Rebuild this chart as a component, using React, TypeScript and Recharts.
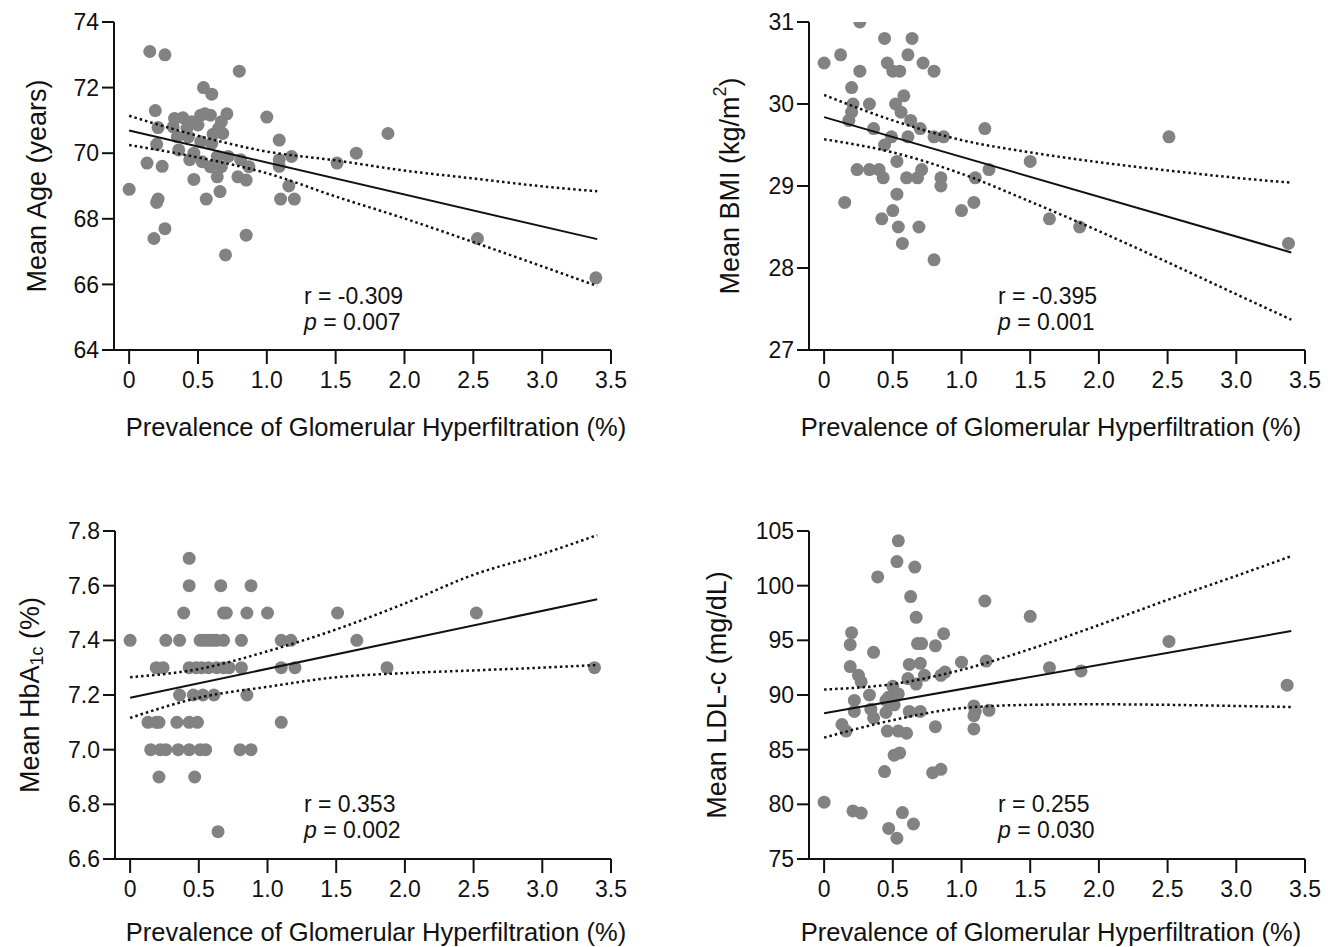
import React from "react";
import { ScatterChart, Scatter, XAxis, YAxis, Label } from "recharts";

const FONT = "'Liberation Sans', Arial, Helvetica, sans-serif";
const INK = "#111";
const DOT = "#828282";

// shared x axis
const xTicks = [0, 0.5, 1, 1.5, 2, 2.5, 3, 3.5];
const lineX = [0, 3.4];
const bandX = [0, 0.5, 1, 1.5, 2, 2.5, 3, 3.4];

// Mean age
const ageX = [0.15, 0.26, 0.8, 0.54, 0.6, 0.19, 1.0, 0.33, 0.39, 0.52, 0.55, 0.59, 0.71, 0.455, 0.67, 0.65, 0.61, 0.68, 0.21, 0.32, 0.42, 0.5, 0.35, 0.43, 0.52, 0.6, 0.2, 0.36, 0.47, 0.64, 0.72, 0.81, 0.13, 0.24, 0.44, 0.53, 0.59, 0.67, 0.87, 0.47, 0.64, 0.79, 0.85, 0.66, 0.0, 0.21, 0.2, 0.56, 1.09, 1.09, 1.09, 1.18, 1.16, 1.1, 1.2, 0.26, 0.18, 0.85, 0.7, 1.88, 1.65, 1.51, 2.53, 3.39];
const ageY = [73.1, 73.0, 72.5, 72.0, 71.8, 71.3, 71.1, 71.06, 71.08, 71.16, 71.2, 71.16, 71.2, 70.96, 70.96, 70.76, 70.58, 70.6, 70.78, 70.8, 70.76, 70.86, 70.5, 70.5, 70.35, 70.3, 70.27, 70.1, 70.0, 69.9, 69.9, 69.8, 69.7, 69.6, 69.8, 69.74, 69.59, 69.59, 69.59, 69.2, 69.28, 69.28, 69.18, 68.83, 68.9, 68.6, 68.5, 68.6, 70.4, 69.8, 69.6, 69.9, 69.0, 68.6, 68.6, 67.7, 67.4, 67.5, 66.9, 70.6, 70.0, 69.7, 67.4, 66.2];
const ageFit = [70.69, 67.38];
const ageUpper = [71.14, 70.53, 70.05, 69.78, 69.47, 69.23, 68.99, 68.84];
const ageLower = [70.25, 69.87, 69.39, 68.68, 68.01, 67.29, 66.55, 65.95];

// Mean BMI
const bmiX = [0.26, 0.44, 0.64, 0.12, 0.61, 0.0, 0.46, 0.72, 0.26, 0.5, 0.55, 0.8, 0.2, 0.58, 0.21, 0.33, 0.52, 0.2, 0.56, 0.18, 0.63, 0.36, 0.7, 1.17, 0.49, 0.61, 0.8, 0.87, 0.44, 0.53, 0.24, 0.33, 0.4, 0.71, 0.43, 0.6, 0.68, 0.85, 1.1, 1.2, 0.85, 0.53, 0.15, 1.09, 0.5, 1.0, 0.42, 0.54, 0.69, 0.57, 0.8, 2.51, 1.5, 1.64, 1.86, 3.38];
const bmiY = [31.0, 30.8, 30.8, 30.6, 30.6, 30.5, 30.5, 30.5, 30.4, 30.4, 30.4, 30.4, 30.2, 30.1, 30.0, 30.0, 30.0, 29.9, 29.9, 29.8, 29.8, 29.7, 29.7, 29.7, 29.6, 29.6, 29.6, 29.6, 29.5, 29.3, 29.2, 29.2, 29.2, 29.2, 29.1, 29.1, 29.1, 29.1, 29.1, 29.2, 29.0, 28.9, 28.8, 28.8, 28.7, 28.7, 28.6, 28.5, 28.5, 28.3, 28.1, 29.6, 29.3, 28.6, 28.5, 28.3];
const bmiFit = [29.84, 28.19];
const bmiUpper = [30.11, 29.8, 29.56, 29.41, 29.29, 29.19, 29.1, 29.04];
const bmiLower = [29.57, 29.41, 29.15, 28.81, 28.45, 28.07, 27.68, 27.37];

// Mean HbA1c
const hbaX = [0.43, 0.43, 0.66, 0.88, 0.39, 0.68, 0.7, 0.85, 1.0, 1.51, 2.52, 0.0, 0.26, 0.36, 0.51, 0.54, 0.57, 0.6, 0.63, 0.68, 0.81, 1.1, 1.17, 1.65, 0.19, 0.24, 0.43, 0.48, 0.52, 0.57, 0.63, 0.68, 0.72, 0.81, 1.1, 1.2, 1.87, 3.38, 0.36, 0.46, 0.53, 0.61, 0.85, 0.13, 0.19, 0.21, 0.34, 0.43, 0.49, 1.1, 0.15, 0.22, 0.26, 0.35, 0.43, 0.51, 0.55, 0.8, 0.88, 0.21, 0.47, 0.64];
const hbaY = [7.7, 7.6, 7.6, 7.6, 7.5, 7.5, 7.5, 7.5, 7.5, 7.5, 7.5, 7.4, 7.4, 7.4, 7.4, 7.4, 7.4, 7.4, 7.4, 7.4, 7.4, 7.4, 7.4, 7.4, 7.3, 7.3, 7.3, 7.3, 7.3, 7.3, 7.3, 7.3, 7.3, 7.3, 7.3, 7.3, 7.3, 7.3, 7.2, 7.2, 7.2, 7.2, 7.2, 7.1, 7.1, 7.1, 7.1, 7.1, 7.1, 7.1, 7.0, 7.0, 7.0, 7.0, 7.0, 7.0, 7.0, 7.0, 7.0, 6.9, 6.9, 6.7];
const hbaFit = [7.19, 7.55];
const hbaUpper = [7.265, 7.295, 7.36, 7.44, 7.535, 7.64, 7.716, 7.785];
const hbaLower = [7.116, 7.19, 7.23, 7.265, 7.28, 7.29, 7.3, 7.31];

// Mean LDL-c
const ldlX = [0.54, 0.53, 0.66, 0.39, 0.63, 1.17, 0.67, 0.2, 0.87, 0.19, 0.68, 0.71, 0.81, 0.36, 0.62, 0.7, 1.0, 1.18, 0.19, 0.25, 0.27, 0.61, 0.73, 0.85, 0.88, 0.67, 0.5, 0.33, 0.54, 0.47, 0.45, 0.51, 0.22, 0.34, 0.36, 0.45, 0.22, 0.62, 0.7, 1.09, 1.1, 1.09, 1.2, 0.13, 0.16, 0.81, 1.09, 0.46, 0.54, 0.6, 0.51, 0.55, 0.44, 0.79, 0.85, 0.0, 0.21, 0.27, 0.57, 0.65, 0.47, 0.53, 1.5, 1.64, 1.87, 2.51, 3.37];
const ldlY = [104.1, 102.2, 101.7, 100.8, 99.0, 98.6, 97.1, 95.7, 95.6, 94.6, 94.7, 94.7, 94.5, 93.9, 92.8, 92.9, 93.0, 93.1, 92.6, 91.8, 91.2, 91.5, 91.8, 91.8, 92.1, 91.0, 90.8, 90.0, 90.1, 89.8, 89.5, 89.1, 89.5, 88.7, 87.9, 88.4, 88.5, 88.5, 88.5, 89.0, 88.5, 88.1, 88.6, 87.3, 86.7, 87.1, 86.9, 86.7, 86.7, 86.5, 84.5, 84.7, 83.0, 82.9, 83.2, 80.2, 79.4, 79.2, 79.25, 78.2, 77.8, 76.9, 97.2, 92.5, 92.2, 94.9, 90.9];
const ldlFit = [88.33, 95.85];
const ldlUpper = [90.5, 91.0, 92.3, 94.2, 96.4, 98.7, 100.9, 102.7];
const ldlLower = [86.1, 87.7, 88.8, 89.1, 89.15, 89.1, 89.0, 88.9];

const zip = (xs: number[], ys: number[]) => xs.map((x, i) => ({ x, y: ys[i] }));

const Dot = (p: any) => <circle cx={p.cx} cy={p.cy} r={6.5} fill={DOT} />;
const NoDot = () => <g />;

const xTitle = "Prevalence of Glomerular Hyperfiltration (%)";

interface PanelProps {
  left: number;
  top: number;
  plotTop: number;
  yWidth: number;
  domain: [number, number];
  yTicks: number[];
  yFmt: (v: number) => string;
  yLabel: React.ReactNode;
  yLabelX: number;
  xTitleX: number;
  xTitleY: number;
  xs: number[];
  ys: number[];
  fit: number[];
  upper: number[];
  lower: number[];
  r: string;
  p: string;
}

const Panel: React.FC<PanelProps> = (c) => {
  const axisLine = { stroke: INK, strokeWidth: 2 };
  const tick = { fill: INK, fontSize: 23, fontFamily: FONT };
  const midY = c.plotTop + 164;
  const dotted = { stroke: INK, strokeWidth: 2.5, strokeDasharray: "2.5 3" };
  const xAxisH = 105;
  return (
    <div style={{ position: "absolute", left: c.left, top: c.top }}>
      <ScatterChart
        width={666}
        height={c.plotTop + 328 + xAxisH}
        margin={{ top: c.plotTop, right: 55, bottom: 0, left: 0 }}
      >
        <XAxis
          type="number"
          dataKey="x"
          domain={[-0.11, 3.5]}
          allowDataOverflow
          ticks={xTicks}
          interval={0}
          tickFormatter={(v: number) => (v === 0 ? "0" : v.toFixed(1))}
          axisLine={axisLine}
          tickLine={axisLine}
          tickSize={14}
          tickMargin={8}
          height={xAxisH}
          tick={tick}
        >
          <Label
            content={() => (
              <g fontFamily={FONT} fill={INK}>
                <text x={c.yWidth + c.xTitleX} y={c.xTitleY} textAnchor="middle" dominantBaseline="central" fontSize={25.5}>
                  {xTitle}
                </text>
                <text x={304} y={304} fontSize={23}>{c.r}</text>
                <text x={304} y={330} fontSize={23}>
                  <tspan fontStyle="italic">p</tspan>
                  {" = " + c.p}
                </text>
              </g>
            )}
          />
        </XAxis>
        <YAxis
          type="number"
          dataKey="y"
          domain={c.domain}
          allowDataOverflow
          ticks={c.yTicks}
          interval={0}
          tickFormatter={c.yFmt}
          axisLine={axisLine}
          tickLine={axisLine}
          tickSize={12}
          tickMargin={3}
          width={c.yWidth}
          tick={tick}
        >
          <Label
            content={() => (
              <text
                x={c.yLabelX}
                y={midY}
                transform={`rotate(-90 ${c.yLabelX} ${midY})`}
                textAnchor="middle"
                dominantBaseline="central"
                fontSize={27}
                fontFamily={FONT}
                fill={INK}
              >
                {c.yLabel}
              </text>
            )}
          />
        </YAxis>
        <Scatter data={zip(c.xs, c.ys)} shape={Dot} isAnimationActive={false} />
        <Scatter
          data={zip(lineX, c.fit)}
          shape={NoDot}
          line={{ stroke: INK, strokeWidth: 2 }}
          isAnimationActive={false}
        />
        <Scatter
          data={zip(bandX, c.upper)}
          shape={NoDot}
          line={dotted}
          lineJointType="monotoneX"
          isAnimationActive={false}
        />
        <Scatter
          data={zip(bandX, c.lower)}
          shape={NoDot}
          line={dotted}
          lineJointType="monotoneX"
          isAnimationActive={false}
        />
      </ScatterChart>
    </div>
  );
};

const App: React.FC = () => (
  <div style={{ position: "absolute", left: 0, top: 0, width: 1332, height: 947, background: "#fff", overflow: "hidden" }}>
    <Panel
      left={0}
      top={0}
      plotTop={22}
      yWidth={114}
      domain={[64, 74]}
      yTicks={[64, 66, 68, 70, 72, 74]}
      yFmt={(v) => String(v)}
      yLabel="Mean Age (years)"
      yLabelX={37}
      xTitleX={262}
      xTitleY={427}
      xs={ageX}
      ys={ageY}
      fit={ageFit}
      upper={ageUpper}
      lower={ageLower}
      r="r = -0.309"
      p="0.007"
    />
    <Panel
      left={694}
      top={0}
      plotTop={22}
      yWidth={115}
      domain={[27, 31]}
      yTicks={[27, 28, 29, 30, 31]}
      yFmt={(v) => String(v)}
      yLabel={
        <>
          <tspan>Mean BMI (kg/m</tspan>
          <tspan dy={-10} fontSize={18}>2</tspan>
          <tspan dy={10}>)</tspan>
        </>
      }
      yLabelX={36}
      xTitleX={242}
      xTitleY={427}
      xs={bmiX}
      ys={bmiY}
      fit={bmiFit}
      upper={bmiUpper}
      lower={bmiLower}
      r="r = -0.395"
      p="0.001"
    />
    <Panel
      left={0}
      top={508}
      plotTop={23}
      yWidth={115}
      domain={[6.6, 7.8]}
      yTicks={[6.6, 6.8, 7.0, 7.2, 7.4, 7.6, 7.8]}
      yFmt={(v) => v.toFixed(1)}
      yLabel={
        <>
          <tspan>Mean HbA</tspan>
          <tspan dy={7} fontSize={18}>1c</tspan>
          <tspan dy={-7}> (%)</tspan>
        </>
      }
      yLabelX={30}
      xTitleX={261}
      xTitleY={424}
      xs={hbaX}
      ys={hbaY}
      fit={hbaFit}
      upper={hbaUpper}
      lower={hbaLower}
      r="r = 0.353"
      p="0.002"
    />
    <Panel
      left={694}
      top={508}
      plotTop={23}
      yWidth={115}
      domain={[75, 105]}
      yTicks={[75, 80, 85, 90, 95, 100, 105]}
      yFmt={(v) => String(v)}
      yLabel="Mean LDL-c (mg/dL)"
      yLabelX={23}
      xTitleX={242}
      xTitleY={424}
      xs={ldlX}
      ys={ldlY}
      fit={ldlFit}
      upper={ldlUpper}
      lower={ldlLower}
      r="r = 0.255"
      p="0.030"
    />
  </div>
);

export default App;
